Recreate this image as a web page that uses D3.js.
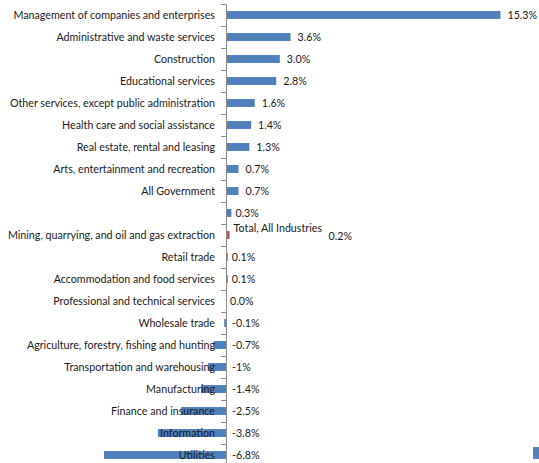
<!DOCTYPE html>
<html>
<head>
<meta charset="utf-8">
<script src="https://cdn.jsdelivr.net/npm/d3@7"></script>
<style>
  html, body { margin: 0; padding: 0; background: #fff; }
  svg { display: block; }
  text { font-family: Lato, "Open Sans", sans-serif; font-size: 10.7px; fill: #1a1a1a; }
</style>
</head>
<body>
<svg id="chart" width="539" height="463"></svg>
<script>
const categories = [
  "Management of companies and enterprises",
  "Administrative and waste services",
  "Construction",
  "Educational services",
  "Other services, except public administration",
  "Health care and social assistance",
  "Real estate, rental and leasing",
  "Arts, entertainment and recreation",
  "All Government",
  "",
  "Mining, quarrying, and oil and gas extraction",
  "Retail trade",
  "Accommodation and food services",
  "Professional and technical services",
  "Wholesale trade",
  "Agriculture, forestry, fishing and hunting",
  "Transportation and warehousing",
  "Manufacturing",
  "Finance and insurance",
  "Information",
  "Utilities"
];
const values = [15.3, 3.6, 3.0, 2.8, 1.6, 1.4, 1.3, 0.7, 0.7, 0.3, 0.2, 0.1, 0.1, 0.0, -0.1, -0.7, -1.0, -1.4, -2.5, -3.8, -6.8];
const valueLabels = ["15.3%", "3.6%", "3.0%", "2.8%", "1.6%", "1.4%", "1.3%", "0.7%", "0.7%", "0.3%", "0.2%", "0.1%", "0.1%", "0.0%", "-0.1%", "-0.7%", "-1%", "-1.4%", "-2.5%", "-3.8%", "-6.8%"];
const highlightRow = 10;
const highlightNote = "Total, All Industries";
const xDomain = [-8, 16];

const W = 539, H = 463;
const svg = d3.select("#chart");
const blue = "#4F81BD", red = "#C0504D";

const x = d3.scaleLinear().domain(xDomain).range([82.5, 513]);
const rows = d3.range(categories.length);
const y = d3.scaleBand().domain(rows).range([4, 4 + 22 * rows.length]).paddingInner(0.64).paddingOuter(0.32);
const x0 = x(0);

// bars
svg.append("g").selectAll("rect").data(rows).join("rect")
  .attr("x", i => x(Math.min(0, values[i])))
  .attr("width", i => Math.abs(x(values[i]) - x0))
  .attr("y", i => y(i))
  .attr("height", y.bandwidth())
  .attr("fill", i => i === highlightRow ? red : blue);

// category labels (drawn above bars)
svg.append("g").selectAll("text").data(rows).join("text")
  .attr("x", x0 - 11)
  .attr("y", i => y(i) + y.bandwidth() / 2)
  .attr("dy", "0.35em")
  .attr("text-anchor", "end")
  .text(i => categories[i]);

// value labels
svg.append("g").selectAll("text").data(rows).join("text")
  .attr("x", i => {
    if (i === highlightRow) return x(values[i]) + 99;
    return values[i] < 0 ? x0 + 6 : x(values[i]) + (values[i] >= 0.5 ? 7 : 4);
  })
  .attr("y", i => y(i) + y.bandwidth() / 2 + (i === highlightRow ? 1 : 0))
  .attr("dy", "0.35em")
  .text(i => valueLabels[i]);

svg.append("text")
  .attr("x", x(values[highlightRow]) + 4)
  .attr("y", y(highlightRow) + y.bandwidth() / 2 - 7)
  .attr("dy", "0.35em")
  .text(highlightNote);

// axis with ticks at row boundaries
const yb = d3.scaleLinear().domain([0, rows.length]).range([4, 4 + 22 * rows.length]);
const axis = svg.append("g").attr("transform", `translate(${x0},0)`)
  .call(d3.axisLeft(yb).tickValues(d3.range(rows.length + 1)).tickSize(5).tickFormat(""));
axis.selectAll("path, line").attr("stroke", "#8c8c8c");

// partially visible legend key
svg.append("rect").attr("x", W - 6).attr("y", H - 16).attr("width", 7).attr("height", 12).attr("fill", blue);
</script>
</body>
</html>
